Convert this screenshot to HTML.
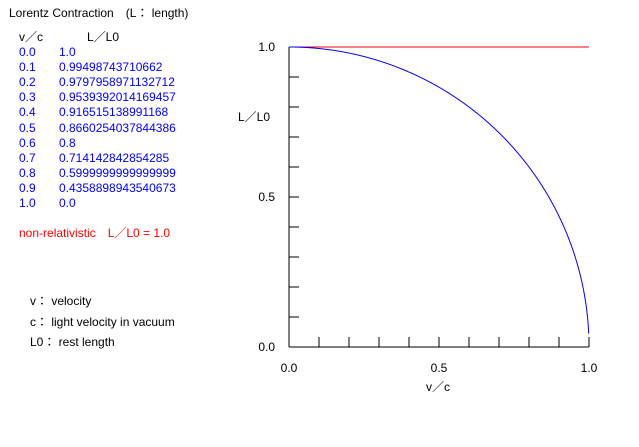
<!DOCTYPE html>
<html><head><meta charset="utf-8"><style>
body{margin:0;width:639px;height:447px;background:#fff;overflow:hidden;font-family:"Liberation Sans","Noto Sans CJK JP",sans-serif;font-size:12px}
.t{position:absolute;white-space:nowrap;line-height:14px}
.b{color:#0000ff}
</style></head><body>
<div class="t" style="left:9px;top:6px">Lorentz Contraction　(L： length)</div>
<div class="t" style="left:19px;top:30px">v／c</div>
<div class="t" style="left:87px;top:30px">L／L0</div>
<div id="tbl"></div>
<div class="t" style="left:19px;top:226px;color:#ff0000">non-relativistic　L／L0 = 1.0</div>
<div class="t" style="left:30px;top:294px">v： velocity</div>
<div class="t" style="left:30px;top:315px">c： light velocity in vacuum</div>
<div class="t" style="left:30px;top:335px">L0： rest length</div>
<svg id="chart" width="639" height="447" style="position:absolute;left:0;top:0" font-family="Liberation Sans, sans-serif" font-size="12"></svg>
<script>
const vValues=[0.0,0.1,0.2,0.3,0.4,0.5,0.6,0.7,0.8,0.9,1.0];
const ratioLabels=["1.0","0.99498743710662","0.9797958971132712","0.9539392014169457","0.916515138991168","0.8660254037844386","0.8","0.714142842854285","0.5999999999999999","0.4358898943540673","0.0"];
const xTickLabels=["0.0","0.5","1.0"];
const yTickLabels=["0.0","0.5","1.0"];
const X0=289,X1=589,Y0=347,Y1=47;
const sx=v=>X0+(X1-X0)*v, sy=r=>Y0-(Y0-Y1)*r;
const tbl=document.getElementById('tbl');
vValues.forEach((v,i)=>{
 const a=document.createElement('div');a.className='t b';a.style.left='19px';a.style.top=(45+i*15.1)+'px';a.textContent=v.toFixed(1);
 
 
 tbl.appendChild(a);
 const b=document.createElement('div');b.className='t b';b.style.left='59px';b.style.top=(45+i*15.1)+'px';b.textContent=ratioLabels[i];
 
 
 tbl.appendChild(b);
});
const svg=document.getElementById('chart');const NS='http://www.w3.org/2000/svg';
function mk(tag,attrs,name){const e=document.createElementNS(NS,tag);for(const k in attrs)e.setAttribute(k,attrs[k]);
 
 
 svg.appendChild(e);return e;}
mk('line',{x1:X0,y1:Y0,x2:X1,y2:Y0,stroke:'#000'},'x-axis');
mk('line',{x1:X0,y1:Y0,x2:X0,y2:Y1,stroke:'#000'},'y-axis');
for(let i=1;i<=10;i++){mk('line',{x1:sx(i/10),y1:Y0,x2:sx(i/10),y2:Y0-10,stroke:'#000'},'x-tick');
 mk('line',{x1:X0,y1:sy(i/10),x2:X0+10,y2:sy(i/10),stroke:'#000'},'y-tick');}
xTickLabels.forEach(l=>{const t=mk('text',{x:sx(parseFloat(l)),y:Y0+25,'text-anchor':'middle'},'x-tick-label');t.textContent=l;});
yTickLabels.forEach(l=>{const t=mk('text',{x:275,y:sy(parseFloat(l))+4,'text-anchor':'end'},'y-tick-label');t.textContent=l;});
mk('text',{x:438,y:391,'text-anchor':'middle'},'x-axis-title').textContent='v／c';
mk('text',{x:238,y:121},'y-axis-title').textContent='L／L0';
mk('line',{x1:sx(0),y1:sy(1),x2:sx(1),y2:sy(1),stroke:'#ff0000'},'non-relativistic-line');
let pts=[];for(let i=0;i<=999;i++){const v=i/1000;pts.push(sx(v).toFixed(2)+','+sy(Math.sqrt(1-v*v)).toFixed(2));}
mk('polyline',{points:pts.join(' '),fill:'none',stroke:'#0000ff'},'contraction-curve');
</script>
</body></html>
